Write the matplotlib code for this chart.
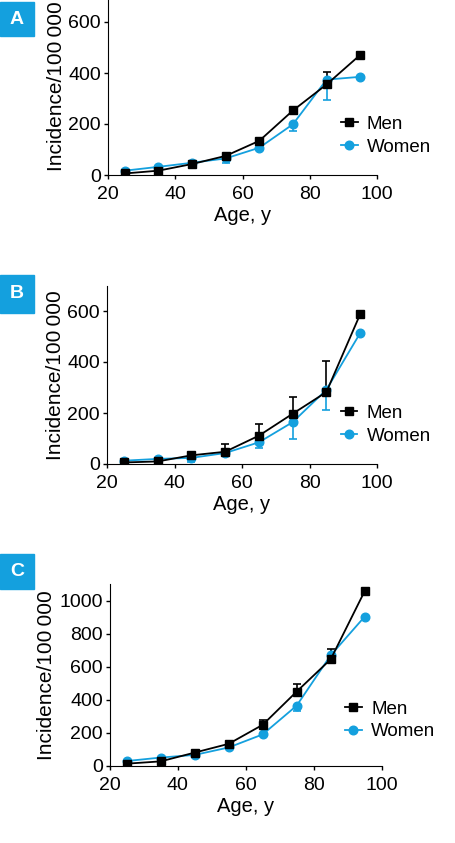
import matplotlib
matplotlib.use("Agg")
import matplotlib.pyplot as plt
from matplotlib import font_manager

installed = {f.name for f in font_manager.fontManager.ttflist}
family = 'Liberation Sans' if 'Liberation Sans' in installed else 'DejaVu Sans'
plt.rcParams['font.family'] = [family, 'DejaVu Sans']
plt.rcParams['font.size'] = 14

blue = '#14a0de'

ages = [25, 35, 45, 55, 65, 75, 85, 95]

# panel A
a_men = [6, 17, 43, 75, 134, 253, 355, 471]
a_men_err = [0, 0, 0, 0, 0, 0, 48, 0]
a_women = [17, 32, 48, 65, 107, 199, 374, 385]
a_women_err = [0, 0, 0, 17, 0, 27, 78, 0]

# panel B
b_men = [6, 10, 34, 48, 111, 197, 282, 587]
b_men_err = [0, 0, 0, 32, 46, 64, 120, 0]
b_women = [13, 20, 24, 43, 85, 164, 291, 513]
b_women_err = [0, 0, 16, 0, 22, 66, 78, 0]

# panel C
c_men = [14, 28, 81, 134, 249, 450, 645, 1057]
c_men_err = [0, 0, 12, 0, 31, 47, 61, 0]
c_women = [30, 51, 67, 112, 191, 365, 669, 903]
c_women_err = [0, 0, 0, 0, 0, 34, 0, 0]

panels = [
    ('A', a_men, a_men_err, a_women, a_women_err, 700, [0, 200, 400, 600],
     [108 / 455, 1 - 175 / 843, 269 / 455, 178.5 / 843], 36, 34, 0.22),
    ('B', b_men, b_men_err, b_women, b_women_err, 700, [0, 200, 400, 600],
     [107 / 455, 1 - 464 / 843, 270 / 455, 178.5 / 843], 313, 38, 0.22),
    ('C', c_men, c_men_err, c_women, c_women_err, 1100, [0, 200, 400, 600, 800, 1000],
     [109.7 / 455, 1 - 766 / 843, 272 / 455, 182 / 843], 589, 35, 0.25),
]

fig = plt.figure(figsize=(4.55, 8.43), dpi=100)

for letter, men, men_err, women, women_err, ytop, yticks, pos, box_bottom, box_h, leg_y in panels:
    ax = fig.add_axes(pos)
    zeros = [0] * len(ages)
    ax.errorbar(ages, women, yerr=[women_err, zeros], fmt='none', ecolor=blue,
                capsize=3, elinewidth=1.2, capthick=1.2, zorder=2)
    ax.errorbar(ages, men, yerr=[zeros, men_err], fmt='none', ecolor='black',
                capsize=3, elinewidth=1.2, capthick=1.2, zorder=3)
    ax.plot(ages, men, color='black', marker='s', markersize=5.8, linewidth=1.3,
            label='Men', zorder=4)
    ax.plot(ages, women, color=blue, marker='o', markersize=6.2, linewidth=1.3,
            label='Women', zorder=3)
    ax.set_xlim(20, 100)
    ax.set_ylim(0, ytop)
    ax.set_xticks([20, 40, 60, 80, 100])
    ax.set_yticks(yticks)
    ax.spines['top'].set_visible(False)
    ax.spines['right'].set_visible(False)
    ax.tick_params(direction='out', length=3, width=1, labelsize=14)
    ax.tick_params(axis='x', pad=5)
    ax.tick_params(axis='y', pad=2)
    ax.set_xlabel('Age, y', fontsize=14.5, labelpad=2)
    ax.set_ylabel('Incidence/100\u2009000', fontsize=15, labelpad=2)
    ax.legend(loc='center left', bbox_to_anchor=(0.865, leg_y),
              frameon=False, fontsize=13.5, handlelength=0.9, handletextpad=0.5,
              labelspacing=0.3, borderaxespad=0, borderpad=0)

    fig.patches.append(plt.Rectangle((0, 1 - box_bottom / 843), 34 / 455, box_h / 843,
                                     transform=fig.transFigure, color=blue, zorder=5))
    fig.text(17 / 455, 1 - (box_bottom - box_h / 2) / 843, letter, color='white',
             fontsize=14, fontweight='bold', ha='center', va='center', zorder=6)

fig.savefig('out.png', dpi=100)
